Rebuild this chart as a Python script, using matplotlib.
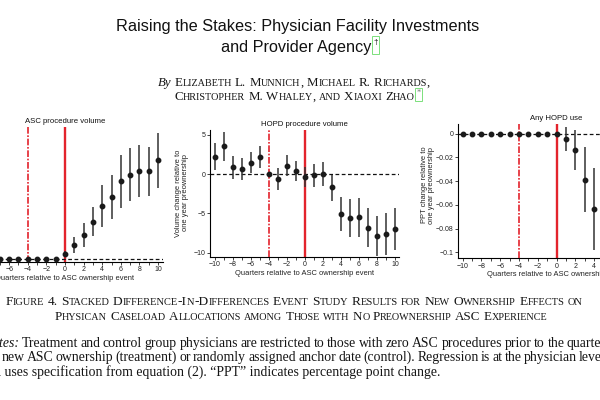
import matplotlib
matplotlib.use("Agg")
import matplotlib.pyplot as plt
from matplotlib.patches import Rectangle
from matplotlib.font_manager import FontProperties

# ---------------- data ----------------
quarters = list(range(-10, 11))
asc_est = [0, 0, 0, 0, 0, 0, 0, 0, 0, 0, 0.9, 2.8, 4.7, 7.4, 10.5, 12.3, 15.5, 16.8, 17.6, 17.5, 19.7]
asc_lo = [0, 0, 0, 0, 0, 0, 0, 0, 0, 0, 0.3, 1.1, 2.3, 4.5, 6.3, 7.9, 10.1, 11.5, 12.3, 12.5, 14.1]
asc_hi = [0, 0, 0, 0, 0, 0, 0, 0, 0, 0, 1.6, 4.4, 7.1, 10.3, 14.7, 16.7, 20.7, 22.1, 22.7, 22.3, 25.1]

hopd_est = [2.15, 3.5, 0.85, 0.63, 1.44, 2.15, 0, -0.68, 1.06, 0.42, -0.42,
            -0.17, 0, -1.6, -5.07, -5.58, -5.49, -6.8, -7.8, -7.65, -6.93]
hopd_lo = [0.46, 1.65, -0.6, -0.76, 0.08, 0.76, 0, -2.03, -0.25, -0.89, -1.69,
           -1.6, -1.52, -3.38, -7.18, -7.94, -7.94, -9.3, -10.35, -10.3, -9.63]
hopd_hi = [3.9, 5.3, 2.3, 2.0, 2.75, 3.55, 0, 0.72, 2.37, 1.69, 0.85,
           1.27, 1.52, -0.17, -2.96, -3.2, -3.0, -4.35, -5.3, -5.0, -4.35]

any_quarters = list(range(-10, 5))
any_est = [0, 0, 0, 0, 0, 0, 0, 0, 0, 0, 0, -0.0045, -0.0135, -0.0386, -0.0632]
any_lo = [0, 0, 0, 0, 0, 0, 0, 0, 0, 0, 0, -0.0144, -0.0307, -0.066, -0.098]
any_hi = [0, 0, 0, 0, 0, 0, 0, 0, 0, 0, 0, 0.0054, 0.0031, -0.0116, -0.0293]

xticks = list(range(-10, 11))
xticklabels = [("\u2212%d" % -t if t < 0 else "%d" % t) if t % 2 == 0 else "" for t in xticks]
hopd_yticks = [5, 0, -5, -10]
hopd_yticklabels = ["5", "0", "\u22125", "\u221210"]
any_yticks = [0, -0.02, -0.04, -0.06, -0.08, -0.1]
any_yticklabels = ["0", "\u22120.02", "\u22120.04", "\u22120.06", "\u22120.08", "\u22120.1"]

panel_titles = ["ASC procedure volume", "HOPD procedure volume", "Any HOPD use"]
xlabel = "Quarters relative to ASC ownership event"
ylabel_vol = "Volume change relative to\none year preownership"
ylabel_ppt = "PPT change relative to\none year preownership"

title_lines = ["Raising the Stakes: Physician Facility Investments", "and Provider Agency"]
author_lines = ["Elizabeth L. Munnich, Michael R. Richards,", "Christopher M. Whaley, and Xiaoxi Zhao"]
caption_lines = ["Figure 4. Stacked Difference-In-Differences Event Study Results for New Ownership Effects on",
                 "Physican Caseload Allocations among Those with No Preownership ASC Experience"]
notes_lines = ["Treatment and control group physicians are restricted to those with zero ASC procedures prior to the quarter",
               "of new ASC ownership (treatment) or randomly assigned anchor date (control). Regression is at the physician level",
               "and uses specification from equation (2). \u201cPPT\u201d indicates percentage point change."]

W, H = 600, 400
fig = plt.figure(figsize=(6, 4), dpi=100)
fig.patch.set_facecolor("white")

SANS = "Liberation Sans"
SERIF = "Liberation Serif"
RED = "#e3232c"
BAR = "#333333"
TS = 5.0


def px(x0, ytop, w, h):
    return [x0 / W, (H - ytop - h) / H, w / W, h / H]


def panel(rect, q, est, lo, hi, ylim, title):
    ax = fig.add_axes(rect)
    ax.set_facecolor("none")
    ax.set_xlim(-10.5, 10.5)
    ax.set_ylim(*ylim)
    ax.axvline(0, color=RED, lw=1.7, zorder=1)
    ax.axvline(-4, color=RED, lw=1.2, ls=(0, (4, 1, 1, 1)), zorder=1)
    ax.axhline(0, color="#111111", lw=0.9, ls=(0, (3, 2)), zorder=2)
    ax.vlines(q, lo, hi, color=BAR, lw=1.1, zorder=3)
    ax.plot(q, est, "o", color="#1a1a1a", ms=3.2, zorder=4)
    for s in ["top", "right"]:
        ax.spines[s].set_visible(False)
    for s in ["left", "bottom"]:
        ax.spines[s].set_linewidth(0.8)
    ax.set_xticks(xticks)
    ax.set_xticklabels(xticklabels, fontsize=TS, family=SANS)
    ax.tick_params(axis="both", direction="out", length=2.2, width=0.6, pad=1.2,
                   labelsize=TS, colors="#222222")
    ax.set_xlabel(xlabel, fontsize=5.4, family=SANS, labelpad=1.0, color="#222222")
    ax.set_title(title, fontsize=5.6, family=SANS, pad=3, color="#111111")
    return ax


# panel 1 (partially off the left edge)
ax1 = panel(px(-32.7, 127, 195.4, 134.5), quarters, asc_est, asc_lo, asc_hi,
            (-0.56, 26.3), panel_titles[0])
ax1.set_yticks([])

# panel 2
ax2 = panel(px(210, 130, 189.5, 126.7), quarters, hopd_est, hopd_lo, hopd_hi,
            (-10.48, 5.58), panel_titles[1])
ax2.set_yticks(hopd_yticks)
ax2.set_yticklabels(hopd_yticklabels, family=SANS)
fig.text(182 / W, 1 - 193 / H, ylabel_vol, rotation=90, ha="center", va="center",
         multialignment="center", fontsize=5.4, family=SANS, color="#222222", linespacing=1.1)

# panel 3 (partially off the right edge)
ax3 = panel(px(458, 124, 197, 134.3), any_quarters, any_est, any_lo, any_hi,
            (-0.105, 0.0082), panel_titles[2])
ax3.set_yticks(any_yticks)
ax3.set_yticklabels(any_yticklabels, family=SANS)
fig.text(428 / W, 1 - 185 / H, ylabel_ppt, rotation=90, ha="center", va="center",
         multialignment="center", fontsize=5.4, family=SANS, color="#222222", linespacing=1.1)

# ---------------- page text ----------------
renderer = fig.canvas.get_renderer()


def _w(s, size, style, family):
    prop = FontProperties(family=family, size=size, style=style)
    return renderer.get_text_width_height_descent(s, prop, ismath=False)[0]


def adv(s, size, style="normal", family=SERIF):
    return _w("|" + s + "|", size, style, family) - _w("||", size, style, family)


def lsb(s, size, style="normal", family=SERIF):
    bar_adv = _w("||", size, style, family) - _w("|", size, style, family)
    bar_lsb = (bar_adv - _w("|", size, style, family)) / 2
    return _w("|" + s, size, style, family) - _w(s, size, style, family) - bar_adv + bar_lsb


def sc_chunks(text, size, ratio=0.78, style="normal"):
    """Split text into (string, size, style) chunks emulating small caps."""
    chunks = []
    for ch in text:
        if ch == " ":
            chunks.append((" ", size, style))
            continue
        big = not ch.islower()
        c = ch.upper()
        sz = size if big else size * ratio
        if chunks and chunks[-1][0] != " " and chunks[-1][1] == sz and chunks[-1][2] == style:
            chunks[-1] = (chunks[-1][0] + c, sz, style)
        else:
            chunks.append((c, sz, style))
    return chunks


def draw_chunks(chunks, y, xc=None, xleft=None, family=SERIF, color="#151515"):
    widths = [adv(c, s, st, family) for c, s, st in chunks]
    total = sum(widths)
    x = xc - total / 2 if xc is not None else xleft
    for (c, s, st), w in zip(chunks, widths):
        if c.strip():
            fig.text((x + lsb(c, s, st, family)) / W, 1 - y / H, c, fontsize=s, style=st,
                     family=family, ha="left", va="baseline", color=color)
        x += w
    return x


def draw_justified(words, y, xl, xr, size, color="#151515"):
    """words: list of (word, style). Spread across [xl, xr]."""
    widths = [adv(w, size, st) for w, st in words]
    gap = (xr - xl - sum(widths)) / (len(words) - 1)
    x = xl
    for (w, st), wd in zip(words, widths):
        fig.text((x + lsb(w, size, st)) / W, 1 - y / H, w, fontsize=size, style=st,
                 family=SERIF, ha="left", va="baseline", color=color)
        x += wd + gap


# title
TSZ = 11.7
fig.text(297.3 / W, 1 - 30.5 / H, title_lines[0],
         ha="center", va="baseline", fontsize=TSZ, family=SANS, color="#111111")
w2 = adv(title_lines[1], TSZ, family=SANS)
x2 = 296.5 - w2 / 2
fig.text(x2 / W, 1 - 52 / H, title_lines[1],
         ha="left", va="baseline", fontsize=TSZ, family=SANS, color="#111111")
xd = x2 + w2
fig.text((xd + 1.3) / W, 1 - 44 / H, "\u2020", ha="left", va="baseline", fontsize=6,
         family=SANS, color="#111111")
fig.patches.append(Rectangle(((xd + 0.5) / W, 1 - 54 / H), 6.5 / W, 18 / H, fill=False,
                             ec="#7be07b", lw=0.7, transform=fig.transFigure, figure=fig))

# authors
ASZ = 9.3
ch = [("By", ASZ, "italic"), (" ", ASZ, "normal")] + sc_chunks(author_lines[0], ASZ)
draw_chunks(ch, 86, xc=293.6)
ch = sc_chunks(author_lines[1], ASZ)
xe = draw_chunks(ch, 100, xc=294.6)
fig.text((xe + 1.5) / W, 1 - 94.5 / H, "*", ha="left", va="baseline", fontsize=6, family=SERIF,
         color="#777777")
fig.patches.append(Rectangle(((xe + 0.5) / W, 1 - 101 / H), 7 / W, 13.5 / H, fill=False,
                             ec="#7be07b", lw=0.7, transform=fig.transFigure, figure=fig))

# caption
ch = sc_chunks(caption_lines[0], 9.6)
draw_chunks(ch, 305, xc=294)
ch = sc_chunks(caption_lines[1], 9.35)
draw_chunks(ch, 320, xc=301)

# notes (justified)
NS = 9.9
words1 = [("Notes:", "italic")] + [(w, "normal") for w in notes_lines[0].split()]
draw_justified(words1, 346.7, -17, 606, NS)
words2 = [(w, "normal") for w in notes_lines[1].split()]
draw_justified(words2, 361.2, -12, 606, NS)
fig.text(-18.7 / W, 1 - 375.7 / H, notes_lines[2],
         fontsize=NS, family=SERIF, ha="left", va="baseline", color="#151515")

fig.savefig("out.png", dpi=100)
